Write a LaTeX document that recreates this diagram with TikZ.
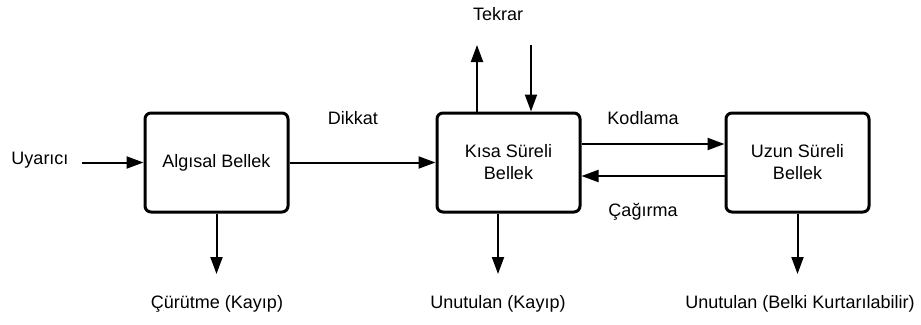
\documentclass[tikz,border=0pt]{standalone}
\usepackage{fontspec}
\setmainfont{Liberation Sans}
\usetikzlibrary{arrows.meta}
\begin{document}
\begin{tikzpicture}[x=1pt,y=-1pt,
 box/.style={draw, line width=3pt, rounded corners=6pt, minimum width=143pt, minimum height=99pt, align=center, font=\fontsize{18}{22}\selectfont, inner sep=0pt},
 lbl/.style={font=\fontsize{18}{22}\selectfont, inner sep=0pt},
 arr/.style={line width=2pt, -{Triangle[length=17pt,width=12pt]}}]
\useasboundingbox (0,0) rectangle (921,324);
\node[box] (ab) at (216.5,162.5) {Algısal Bellek};
\node[box] (ks) at (508.5,162.5) {Kısa Süreli\\Bellek};
\node[box] (us) at (797.5,162.5) {Uzun Süreli\\Bellek};
\node[lbl] (uy) at (40,160) {Uyarıcı};
\node[lbl] (dk) at (353,118) {Dikkat};
\node[lbl] (tk) at (498,14) {Tekrar};
\node[lbl] (kd) at (643,118) {Kodlama};
\node[lbl] (cg) at (643,212) {Çağırma};
\node[lbl] (l1) at (217,304) {Çürütme (Kayıp)};
\node[lbl] (l2) at (498,304) {Unutulan (Kayıp)};
\node[lbl] (l3) at (800,304) {Unutulan (Belki Kurtarılabilir)};
\coordinate (uyS) at (82,162.5);
\coordinate (tkU) at (477,45);
\coordinate (tkD) at (531,45);
\coordinate (d1) at (216.5,274);
\coordinate (d2) at (498,274);
\coordinate (d3) at (797.5,274);
\draw[arr] (uyS) -- (ab.west);
\draw[arr] (ab.east) -- (ks.west);
\draw[arr] (ks.north -| tkU) -- (tkU);
\draw[arr] (tkD) -- (ks.north -| tkD);
\draw[arr] (ks.east |- 0,144) -- (us.west |- 0,144);
\draw[arr] (us.west |- 0,176) -- (ks.east |- 0,176);
\draw[arr] (ab.south) -- (d1);
\draw[arr] (ks.south -| d2) -- (d2);
\draw[arr] (us.south) -- (d3);
\end{tikzpicture}
\end{document}
